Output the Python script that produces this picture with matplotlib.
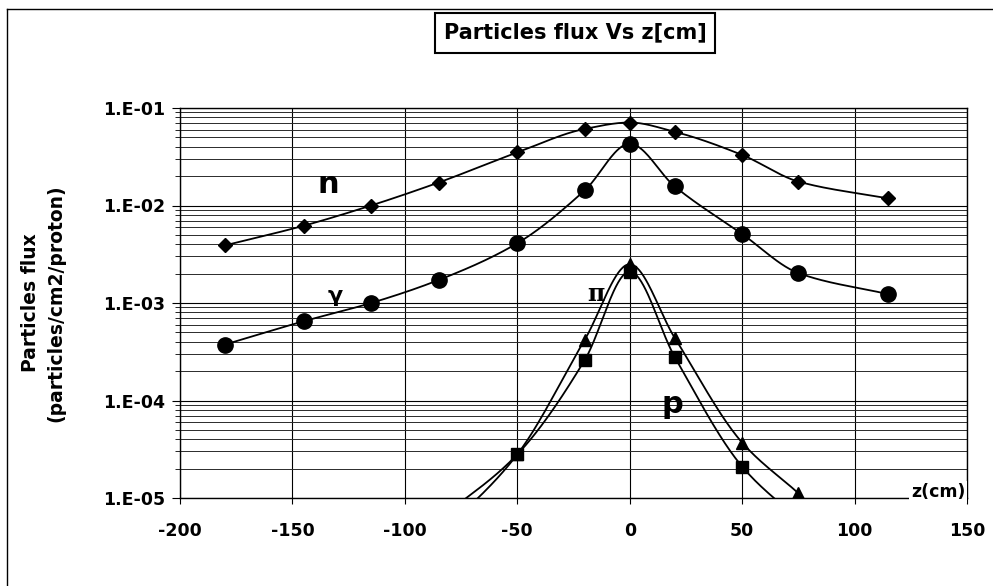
import numpy as np
import matplotlib
matplotlib.use("Agg")
import matplotlib.pyplot as plt
from matplotlib.ticker import FixedLocator, LogLocator, NullFormatter
from matplotlib.lines import Line2D
from matplotlib.patches import Rectangle

plt.rcParams['font.family'] = ['DejaVu Sans']
plt.rcParams['axes.unicode_minus'] = False

# ---- data ----
z_n = [-180, -145, -115, -85, -50, -20, 0, 20, 50, 75, 115]
flux_n = [3.9e-3, 6.2e-3, 1.0e-2, 1.72e-2, 3.5e-2, 6.1e-2, 7.1e-2, 5.7e-2, 3.3e-2, 1.76e-2, 1.18e-2]

z_gamma = [-180, -145, -115, -85, -50, -20, 0, 20, 50, 75, 115]
flux_gamma = [3.75e-4, 6.5e-4, 1.0e-3, 1.72e-3, 4.1e-3, 1.43e-2, 4.3e-2, 1.57e-2, 5.1e-3, 2.03e-3, 1.23e-3]

z_pi = [-85, -50, -20, 0, 20, 50, 75]
flux_pi = [4.0e-6, 2.8e-5, 4.2e-4, 2.5e-3, 4.4e-4, 3.7e-5, 1.12e-5]

z_p = [-85, -50, -20, 0, 20, 50, 75]
flux_p = [6.0e-6, 2.8e-5, 2.6e-4, 2.1e-3, 2.8e-4, 2.1e-5, 6.0e-6]

x_ticks = [-200, -150, -100, -50, 0, 50, 100, 150]
y_ticks = [1e-5, 1e-4, 1e-3, 1e-2, 1e-1]
y_tick_labels = ["1.E-05", "1.E-04", "1.E-03", "1.E-02", "1.E-01"]


def smooth(xs, ys, n=40):
    """Shape-preserving smoothed line (PCHIP Hermite) in (x, log10 y)."""
    x = np.asarray(xs, float)
    y = np.log10(np.asarray(ys, float))
    h = np.diff(x)
    d = np.diff(y) / h
    m = np.zeros_like(y)
    m[0], m[-1] = d[0], d[-1]
    for k in range(1, len(x) - 1):
        if d[k - 1] * d[k] <= 0:
            m[k] = 0.0
        else:
            w1 = 2 * h[k] + h[k - 1]
            w2 = h[k] + 2 * h[k - 1]
            m[k] = (w1 + w2) / (w1 / d[k - 1] + w2 / d[k])
    ox, oy = [], []
    for k in range(len(x) - 1):
        t = np.linspace(0, 1, n)
        h00 = 2 * t ** 3 - 3 * t ** 2 + 1
        h10 = t ** 3 - 2 * t ** 2 + t
        h01 = -2 * t ** 3 + 3 * t ** 2
        h11 = t ** 3 - t ** 2
        yy = h00 * y[k] + h10 * h[k] * m[k] + h01 * y[k + 1] + h11 * h[k] * m[k + 1]
        xx = x[k] + t * h[k]
        if k > 0:
            xx, yy = xx[1:], yy[1:]
        ox.append(xx)
        oy.append(yy)
    return np.concatenate(ox), 10 ** np.concatenate(oy)


W, H = 993, 586
fig = plt.figure(figsize=(W / 100, H / 100), dpi=100)
ax = fig.add_axes([180 / W, 1 - 498 / H, (967 - 180) / W, (498 - 108) / H])

ax.set_xlim(-200, 150)
ax.set_yscale('log')
ax.set_ylim(1e-5, 1e-1)

# grid
ax.xaxis.set_major_locator(FixedLocator(x_ticks))
ax.yaxis.set_major_locator(FixedLocator(y_ticks))
ax.yaxis.set_minor_locator(LogLocator(base=10, subs=np.arange(2, 10)))
ax.yaxis.set_minor_formatter(NullFormatter())
ax.set_yticklabels(y_tick_labels)
ax.grid(True, which='major', axis='both', color='black', lw=0.8)
ax.grid(True, which='minor', axis='y', color='#2a2a2a', lw=0.7)
ax.set_axisbelow(True)

for s in ax.spines.values():
    s.set_color('black')
    s.set_linewidth(1.0)

ax.tick_params(axis='y', which='major', direction='out', length=6, width=0.8, pad=5)
ax.tick_params(axis='y', which='minor', direction='out', length=3.5, width=0.6)
ax.tick_params(axis='x', which='major', direction='out', length=4, width=0.8, pad=13)
for lab in ax.get_xticklabels() + ax.get_yticklabels():
    lab.set_fontweight('bold')
    lab.set_fontsize(12.5)

# series
series = [
    (z_n, flux_n, 'D', 7.5),
    (z_gamma, flux_gamma, 'o', 11),
    (z_pi, flux_pi, '^', 9),
    (z_p, flux_p, 's', 8.5),
]
for xs, ys, mk, ms in series:
    sx, sy = smooth(xs, ys)
    ax.plot(sx, sy, color='black', lw=1.3, zorder=3)
    ax.plot(xs, ys, linestyle='none', marker=mk, ms=ms, color='black',
            markeredgecolor='black', zorder=4)

# series labels
ax.text(-134, 1.65e-2, 'n', fontsize=22, fontweight='bold', ha='center', va='center')
ax.text(-131, 1.18e-3, 'γ', fontsize=16, fontweight='bold', ha='center', va='center')
ax.text(-15, 1.23e-3, 'π', fontsize=17, ha='center', va='center', family=['DejaVu Serif'], fontweight='bold')
ax.text(19, 9.0e-5, 'p', fontsize=22, fontweight='bold', ha='center', va='center')

# axis title on the right end
fig.text(938 / W, 1 - 492 / H, 'z(cm)', fontsize=12.5, fontweight='bold', ha='center', va='center',
         bbox=dict(facecolor='white', edgecolor='none', pad=1.5))

# y label
fig.text(31 / W, 1 - 303 / H, 'Particles flux', rotation=90, fontsize=13.5, fontweight='bold',
         ha='center', va='center')
fig.text(56 / W, 1 - 303 / H, '(particles/cm2/proton)', rotation=90, fontsize=13.5, fontweight='bold',
         ha='center', va='center')

# title in a box
fig.add_artist(Rectangle((435 / W, 1 - 53 / H), (715 - 435) / W, 40 / H, transform=fig.transFigure,
                         facecolor='white', edgecolor='black', lw=1.5, zorder=5))
fig.text(575 / W, 1 - 32 / H, 'Particles flux Vs z[cm]', fontsize=15, fontweight='bold',
         ha='center', va='center', zorder=6)

# outer frame (left and top edges)
fig.add_artist(Line2D([7 / W, 7 / W], [0, 1 - 9 / H], color='black', lw=1.0, transform=fig.transFigure))
fig.add_artist(Line2D([7 / W, 1], [1 - 9 / H, 1 - 9 / H], color='black', lw=1.0, transform=fig.transFigure))

fig.savefig('out.png', dpi=100)
